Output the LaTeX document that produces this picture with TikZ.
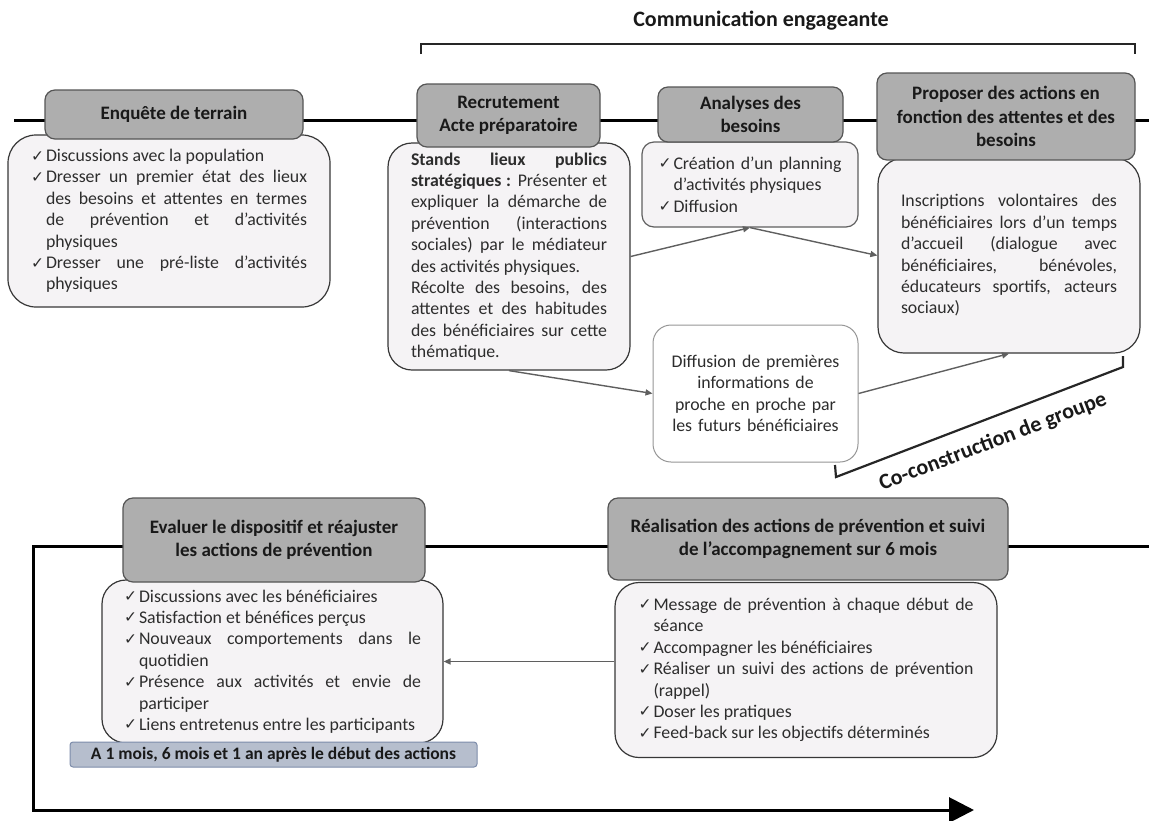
\documentclass[tikz,border=0pt]{standalone}
\usepackage{fontspec}
\setmainfont{Carlito}
\newfontfamily\symfont{DejaVu Sans}
\usetikzlibrary{arrows.meta,calc}

\setlength\parindent{0pt}
\hyphenpenalty=10000
\exhyphenpenalty=10000
\tolerance=9999
\hbadness=10000
\hfuzz=4pt

\definecolor{hdrfill}{RGB}{174,174,174}
\definecolor{hdrline}{RGB}{85,85,85}
\definecolor{bodyfill}{RGB}{245,243,245}
\definecolor{bodyline}{RGB}{55,55,55}
\definecolor{softline}{RGB}{150,150,150}
\definecolor{arrowgray}{RGB}{95,95,95}
\definecolor{titletext}{RGB}{25,25,25}
\definecolor{bodytext}{RGB}{45,45,45}
\definecolor{notefill}{RGB}{182,190,205}
\definecolor{noteline}{RGB}{125,140,170}

% one checked item with a hanging indent
\newcommand\chkitem[1]{\hangindent=15pt\hangafter=1\noindent\makebox[15pt][l]{\raisebox{0.5pt}{\symfont\fontsize{15.5}{15.5}\selectfont ✓}}#1\par}

\tikzset{
  hdr/.style={draw=hdrline, line width=1.2pt, fill=hdrfill, rounded corners=10pt,
    inner sep=0pt, align=center, text=titletext,
    font=\bfseries\fontsize{19}{23.5}\selectfont},
  bodybox/.style={draw=bodyline, line width=1.2pt, fill=bodyfill, rounded corners=24pt,
    inner sep=0pt, align=justify, text=bodytext,
    font=\fontsize{17.8}{21.4}\selectfont},
  plainbox/.style={draw=softline, line width=1pt, fill=white, rounded corners=18pt,
    inner sep=0pt, align=center, text=bodytext,
    font=\fontsize{17.8}{21.5}\selectfont},
  notebox/.style={draw=noteline, line width=1pt, fill=notefill, rounded corners=3pt,
    inner sep=0pt, text=titletext, font=\bfseries\fontsize{17.5}{20}\selectfont},
  bigtitle/.style={inner sep=0pt, text=titletext, font=\bfseries\fontsize{22}{26}\selectfont},
  timeline/.style={line width=3pt, black},
  bracket/.style={line width=2.2pt, black!85},
  flow/.style={draw=arrowgray, line width=1.4pt, -{Triangle[length=7pt,width=6pt]}},
}

\begin{document}
\begin{tikzpicture}[x=1pt,y=-1pt]
\useasboundingbox (0,0) rectangle (1149,820);

% ---------- time lines ----------
\coordinate (t1a) at (14,120);
\coordinate (t1b) at (1149,120);
\draw[timeline] (t1a) -- (t1b);

\coordinate (t2a) at (1149,546);
\coordinate (t2c) at (33,546);
\coordinate (t2d) at (33,810);
\coordinate (t2e) at (974,810);
\draw[timeline, line join=miter, -{Triangle[length=25pt,width=25pt]}] (t2a) -- (t2c) -- (t2d) -- (t2e);

% ---------- communication bracket ----------
\node[bigtitle] (comm) at (761,21) {Communication engageante};
\coordinate (cb1) at (421,54);
\coordinate (cb2) at (421,44);
\coordinate (cb3) at (1135,44);
\coordinate (cb4) at (1135,54);
\draw[bracket] (cb1) -- (cb2) -- (cb3) -- (cb4);

% ---------- co-construction bracket ----------
\coordinate (gb1) at (835,465);
\coordinate (gb2) at (836,477);
\coordinate (gb3) at (1123,367);
\coordinate (gb4) at (1123,356);
\draw[bracket] (gb1) -- (gb2) -- (gb3) -- (gb4);
\node[bigtitle, rotate=21] (coco) at (993,442) {Co-construction de groupe};

% ---------- bodies ----------
\node[bodybox, rounded corners=28pt, minimum width=322pt, minimum height=172pt, text width=276pt]
  (enqb) at (169,221) {%
  \chkitem{Discussions avec la population}%
  \chkitem{Dresser un premier état des lieux\linebreak des besoins et attentes en termes\linebreak de prévention et d’activités\linebreak physiques}%
  \chkitem{Dresser une pré-liste d’activités\linebreak physiques}};

\node[bodybox, minimum width=242pt, minimum height=227pt, text width=196pt]
  (recb) at (509,256.5) {%
  \textbf{Stands lieux publics\linebreak stratégiques :} Présenter et\linebreak expliquer la démarche de\linebreak prévention (interactions\linebreak sociales) par le médiateur\linebreak des activités physiques.\par
  Récolte des besoins, des\linebreak attentes et des habitudes\linebreak des bénéficiaires sur cette\linebreak thématique.};

\node[bodybox, draw=arrowgray, rounded corners=12pt, minimum width=216pt, minimum height=85pt, text width=183pt]
  (anab) at (750,184.5) {%
  \chkitem{Création d’un planning\linebreak d’activités physiques}%
  \chkitem{Diffusion}};

\node[bodybox, rounded corners=26pt, minimum width=262pt, minimum height=195pt, text width=216pt]
  (propb) at (1009,255.5) {Inscriptions volontaires des\linebreak bénéficiaires lors d’un temps\linebreak d’accueil (dialogue avec\linebreak bénéficiaires, bénévoles,\linebreak éducateurs sportifs, acteurs\linebreak sociaux)};

\node[plainbox, minimum width=205pt, minimum height=137pt, text width=190pt]
  (diff) at (755.5,393.5) {Diffusion de premières\\informations de\\proche en proche par\\les futurs bénéficiaires};

\node[bodybox, minimum width=341pt, minimum height=163pt, text width=297pt]
  (evalb) at (272.5,661.5) {%
  \chkitem{Discussions avec les bénéficiaires}%
  \chkitem{Satisfaction et bénéfices perçus}%
  \chkitem{Nouveaux comportements dans le\linebreak quotidien}%
  \chkitem{Présence aux activités et envie de\linebreak participer}%
  \chkitem{Liens entretenus entre les participants}};

\node[notebox, minimum width=407pt, minimum height=25pt]
  (delay) at (273.5,754.5) {A 1 mois, 6 mois et 1 an après le début des actions};

\node[bodybox, minimum width=382pt, minimum height=175pt, text width=335pt]
  (realb) at (806,670) {%
  \chkitem{Message de prévention à chaque début de\linebreak séance}%
  \chkitem{Accompagner les bénéficiaires}%
  \chkitem{Réaliser un suivi des actions de prévention\linebreak (rappel)}%
  \chkitem{Doser les pratiques}%
  \chkitem{Feed-back sur les objectifs déterminés}};

% ---------- headers ----------
\node[hdr, minimum width=258pt, minimum height=49pt] (enqh) at (174,114.5) {Enquête de terrain};
\node[hdr, minimum width=183pt, minimum height=63pt] (rech) at (508.5,115.5) {Recrutement\\Acte préparatoire};
\node[hdr, minimum width=185pt, minimum height=55pt] (anah) at (750.5,114.5) {Analyses des\\besoins};
\node[hdr, minimum width=258pt, minimum height=87pt] (proph) at (1006,116.5) {Proposer des actions en\\fonction des attentes et des\\besoins};
\node[hdr, minimum width=302pt, minimum height=84pt] (evalh) at (274,540) {Evaluer le dispositif et réajuster\\les actions de prévention};
\node[hdr, minimum width=400pt, minimum height=82pt] (realh) at (808,539) {Réalisation des actions de prévention et suivi\\de l’accompagnement sur 6 mois};

% ---------- flows ----------
\draw[flow] (recb.east) -- (anab.south);
\draw[flow] (anab.south) -- (propb.west);
\draw[flow] (recb.south) -- (diff.west);
\draw[flow] (diff.east) -- (propb.south);
\draw[flow] (realb.west |- evalb.east) -- (evalb.east);
\end{tikzpicture}
\end{document}
